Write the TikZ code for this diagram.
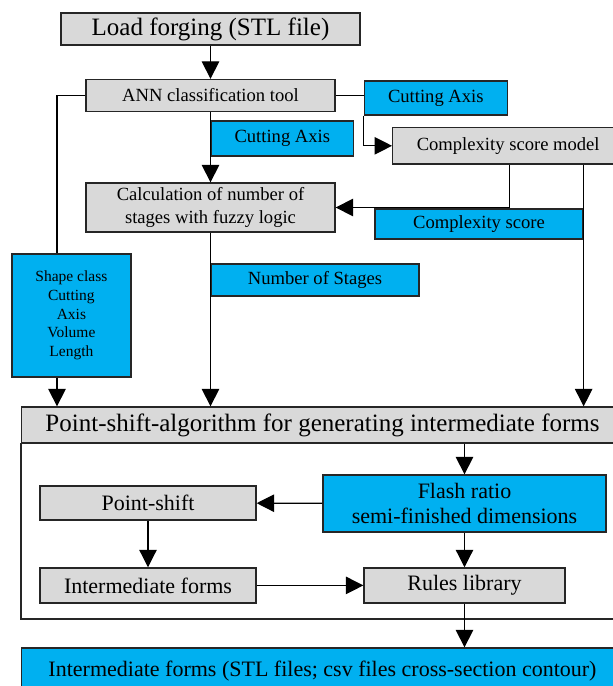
\documentclass[tikz,border=0pt]{standalone}
\usepackage{fontspec}
\setmainfont{Liberation Serif}
\usetikzlibrary{arrows.meta}
\definecolor{boxgray}{HTML}{D9D9D9}
\definecolor{boxblue}{HTML}{00B0F0}

\begin{document}
\begin{tikzpicture}[x=1pt, y=-1pt,
  graybox/.style={draw=black!85, line width=1.3pt, fill=boxgray, inner sep=0pt, align=center},
  bluebox/.style={draw=black!85, line width=1.3pt, fill=boxblue, inner sep=0pt, align=center},
  big/.style={font=\fontsize{25}{30}\selectfont},
  mid/.style={font=\fontsize{18.6}{22.3}\selectfont},
  low/.style={font=\fontsize{22}{25}\selectfont},
  arr/.style={line width=1.2pt, -{Triangle[length=17.5pt, width=17.5pt]}},
  con/.style={line width=1.2pt}]
  \useasboundingbox (0,0) rectangle (613,686);
  \clip (0,0) rectangle (613,686);

  % upper part
  \node[graybox, big, minimum width=299pt, minimum height=32pt] (load) at (210.5,29) {Load forging (STL file)};
  \node[graybox, mid, minimum width=249pt, minimum height=32pt] (ann) at (210.5,95.5) {ANN classification tool};
  \node[bluebox, mid, minimum width=143pt, minimum height=34pt] (cut1) at (435.8,98) {Cutting Axis};
  \node[graybox, mid, minimum width=231pt, minimum height=36.5pt] (csm) at (508.2,145.8) {Complexity score model};
  \node[bluebox, mid, minimum width=142.5pt, minimum height=35pt] (cut2) at (282.3,138.4) {Cutting Axis};
  \node[graybox, mid, minimum width=249pt, minimum height=49pt] (calc) at (210.5,207.5) {Calculation of number of\\stages with fuzzy logic};
  \node[bluebox, mid, minimum width=208pt, minimum height=30pt] (cs) at (479,224) {Complexity score};
  \node[bluebox, font=\fontsize{15.5}{18.7}\selectfont, minimum width=119pt, minimum height=123pt] (shape) at (71.4,315.5) {Shape class\\Cutting\\Axis\\Volume\\Length};
  \node[bluebox, mid, minimum width=208pt, minimum height=32pt] (stages) at (315,280) {Number of Stages};

  % lower part
  \node[graybox, big, minimum width=602pt, minimum height=36pt] (psa) at (322.5,425) {Point-shift-algorithm for generating intermediate forms};
  \coordinate (framebottom) at (0,619);
  \draw[line width=1.4pt, draw=black!85] (psa.south west) rectangle (framebottom -| psa.south east);
  \node[bluebox, low, minimum width=283pt, minimum height=57pt] (flash) at (464.5,503.5) {Flash ratio\\semi-finished dimensions};
  \node[graybox, low, minimum width=216pt, minimum height=34pt] (ps) at (148,503) {Point-shift};
  \node[graybox, low, minimum width=216pt, minimum height=35pt] (im) at (148,585.4) {Intermediate forms};
  \node[graybox, low, minimum width=201pt, minimum height=35pt] (rules) at (464.5,585.4) {Rules library};
  \node[bluebox, low, minimum width=602pt, minimum height=46pt] (final) at (322.5,671) {Intermediate forms (STL files; csv files cross-section contour)};

  % connectors
  \draw[arr] (load) -- (ann);
  \draw[con] (ann.west) -| ([xshift=-14.4pt]shape.north);
  \draw[arr] ([xshift=-14.4pt]shape.south) -- ([xshift=-14.4pt]shape.south |- psa.north);
  \draw[con] (ann.east) -- (ann.east -| cut1.west);
  \draw[arr] (cut1.south west) |- (csm.west);
  \draw[arr] (ann) -- (calc);
  \draw[arr] ([xshift=1pt]csm.south) |- (calc.east);
  \draw[arr] (cs.north east |- csm.south) -- (cs.north east |- psa.north);
  \draw[arr] (calc.south) -- (calc.south |- psa.north);
  \draw[arr] (flash.north |- psa.south) -- (flash.north);
  \draw[arr] (flash) -- (ps);
  \draw[arr] (ps) -- (im);
  \draw[arr] (im) -- (rules);
  \draw[arr] (flash) -- (rules);
  \draw[arr] (rules.south) -- (rules.south |- final.north);
\end{tikzpicture}
\end{document}
